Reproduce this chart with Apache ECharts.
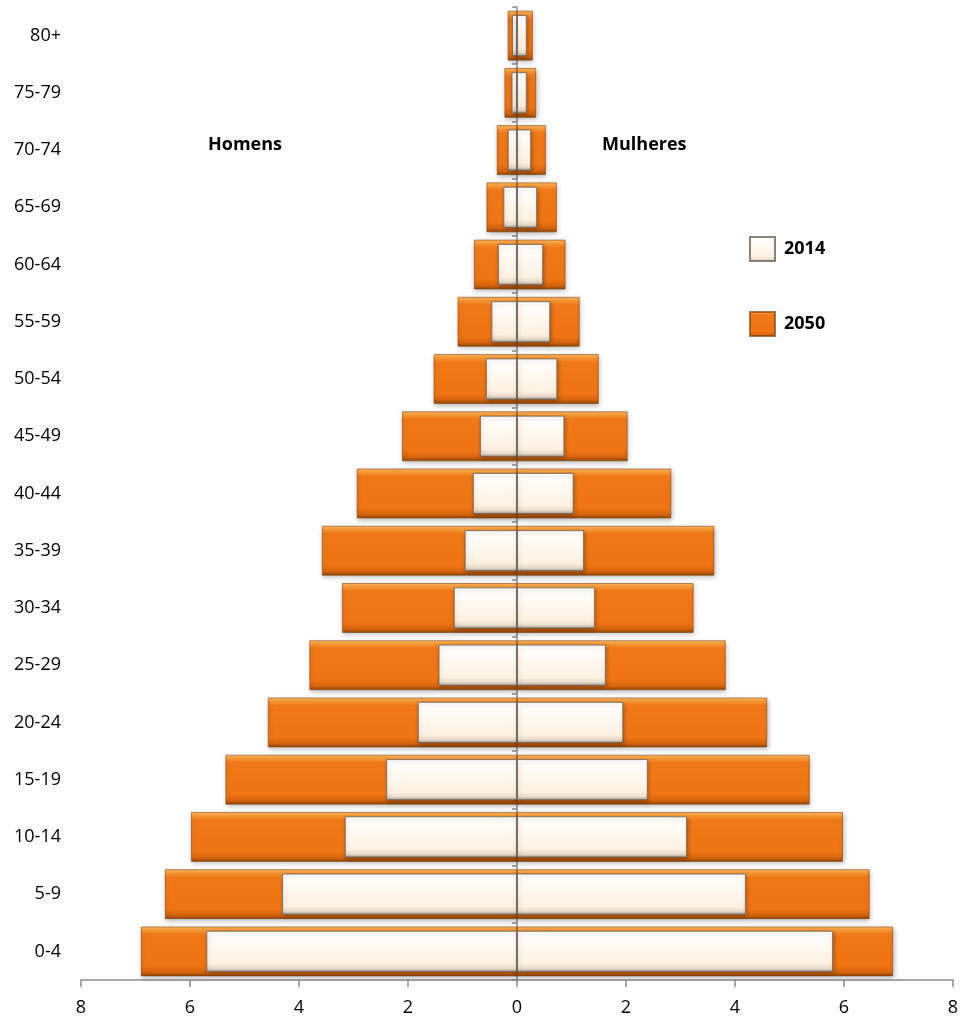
<!DOCTYPE html>
<html>
<head>
<meta charset="utf-8">
<script src="https://cdn.jsdelivr.net/npm/echarts@6/dist/echarts.min.js"></script>
<style>
html,body{margin:0;padding:0;background:#fff;}
#chart{width:963px;height:1023px;}
</style>
</head>
<body>
<div id="chart"></div>
<script>
// Age groups, bottom to top
var categories = ['0-4','5-9','10-14','15-19','20-24','25-29','30-34','35-39','40-44','45-49','50-54','55-59','60-64','65-69','70-74','75-79','80+'];
// Percent of population
var men2014   = [5.70, 4.31, 3.16, 2.40, 1.82, 1.44, 1.16, 0.96, 0.81, 0.68, 0.57, 0.47, 0.35, 0.25, 0.17, 0.10, 0.09];
var women2014 = [5.80, 4.20, 3.12, 2.40, 1.95, 1.63, 1.43, 1.23, 1.04, 0.87, 0.74, 0.61, 0.48, 0.37, 0.26, 0.18, 0.18];
var men2050   = [6.90, 6.46, 5.98, 5.35, 4.57, 3.81, 3.21, 3.58, 2.94, 2.11, 1.53, 1.09, 0.79, 0.56, 0.37, 0.23, 0.17];
var women2050 = [6.90, 6.47, 5.98, 5.37, 4.59, 3.83, 3.24, 3.62, 2.83, 2.03, 1.50, 1.15, 0.89, 0.73, 0.53, 0.35, 0.29];
var xTicks = [-8, -6, -4, -2, 0, 2, 4, 6, 8];
var legendNames = ['2014', '2050'];
var sideLabels = ['Homens', 'Mulheres'];

var FONT = '"Open Sans", "Noto Sans", sans-serif';

function grad(stops) {
  return new echarts.graphic.LinearGradient(0, 0, 0, 1, stops.map(function (s) { return { offset: s[0], color: s[1] }; }));
}
var orangeStyle = {
  color: grad([[0, '#FDBA66'], [0.07, '#F99C38'], [0.16, '#F07817'], [0.8, '#EF7413'], [0.92, '#D5640D'], [1, '#8C4508']]),
  borderColor: 'rgba(130,65,10,0.7)',
  borderWidth: 0.8,
  shadowColor: 'rgba(0,0,0,0.28)',
  shadowBlur: 5,
  shadowOffsetY: 2,
  shadowOffsetX: 1
};
var creamStyle = {
  color: grad([[0, '#FFFFFF'], [0.22, '#FFFCF7'], [0.8, '#FDF1E2'], [0.92, '#E6D9CA'], [1, '#9C938B']]),
  borderColor: 'rgba(110,100,92,0.8)',
  borderWidth: 1,
  shadowColor: 'rgba(0,0,0,0.25)',
  shadowBlur: 4,
  shadowOffsetY: 2,
  shadowOffsetX: 1
};

var neg = function (arr) { return arr.map(function (v) { return -v; }); };

var option = {
  animation: false,
  backgroundColor: '#ffffff',
  grid: { left: 81, right: 10, top: 7, bottom: 43, containLabel: false },
  legend: {
    data: legendNames,
    orient: 'vertical',
    left: 749,
    top: 236,
    padding: 0,
    itemWidth: 25,
    itemHeight: 24,
    itemGap: 49,
    icon: 'rect',
    textStyle: { fontFamily: FONT, fontSize: 18, fontWeight: 'bold', color: '#000', padding: [0, 0, 0, 4] }
  },
  xAxis: {
    type: 'value',
    min: xTicks[0],
    max: xTicks[xTicks.length - 1],
    interval: xTicks[1] - xTicks[0],
    axisLine: { show: true, lineStyle: { color: '#8c8c8c', width: 1.5 } },
    axisTick: { show: true, length: 7, lineStyle: { color: '#8c8c8c', width: 1.5 } },
    splitLine: { show: false },
    axisLabel: {
      fontFamily: FONT, fontSize: 18, color: '#000', margin: 19,
      formatter: function (v) { return String(Math.abs(v)); }
    }
  },
  yAxis: [
    {
      type: 'category',
      data: categories,
      position: 'left',
      axisLine: { show: false, onZero: false },
      axisTick: { show: false },
      axisLabel: { fontFamily: FONT, fontSize: 18, color: '#000', margin: 20 }
    },
    {
      type: 'category',
      data: categories,
      position: 'left',
      axisLine: { show: true, onZero: true, lineStyle: { color: '#8c8c8c', width: 1.5 } },
      axisTick: { show: true, length: 5, lineStyle: { color: '#8c8c8c', width: 1.5 } },
      axisLabel: { show: false }
    }
  ],
  series: [
    { name: legendNames[1], type: 'bar', yAxisIndex: 0, stack: 'y2050', barWidth: '87%', data: neg(men2050), itemStyle: orangeStyle, z: 2 },
    { name: legendNames[1], type: 'bar', yAxisIndex: 0, stack: 'y2050', barWidth: '87%', data: women2050, itemStyle: orangeStyle, z: 2 },
    { name: legendNames[0], type: 'bar', yAxisIndex: 1, stack: 'y2014', barWidth: '72%', data: neg(men2014), itemStyle: creamStyle, z: 3 },
    { name: legendNames[0], type: 'bar', yAxisIndex: 1, stack: 'y2014', barWidth: '72%', data: women2014, itemStyle: creamStyle, z: 3 }
  ],
  graphic: [
    { type: 'text', left: 208, top: 136, style: { text: sideLabels[0], font: 'bold 18px ' + FONT, fill: '#000' } },
    { type: 'text', left: 602, top: 136, style: { text: sideLabels[1], font: 'bold 18px ' + FONT, fill: '#000' } }
  ]
};

var chart = echarts.init(document.getElementById('chart'), null, { renderer: 'canvas' });
chart.setOption(option);
</script>
</body>
</html>
